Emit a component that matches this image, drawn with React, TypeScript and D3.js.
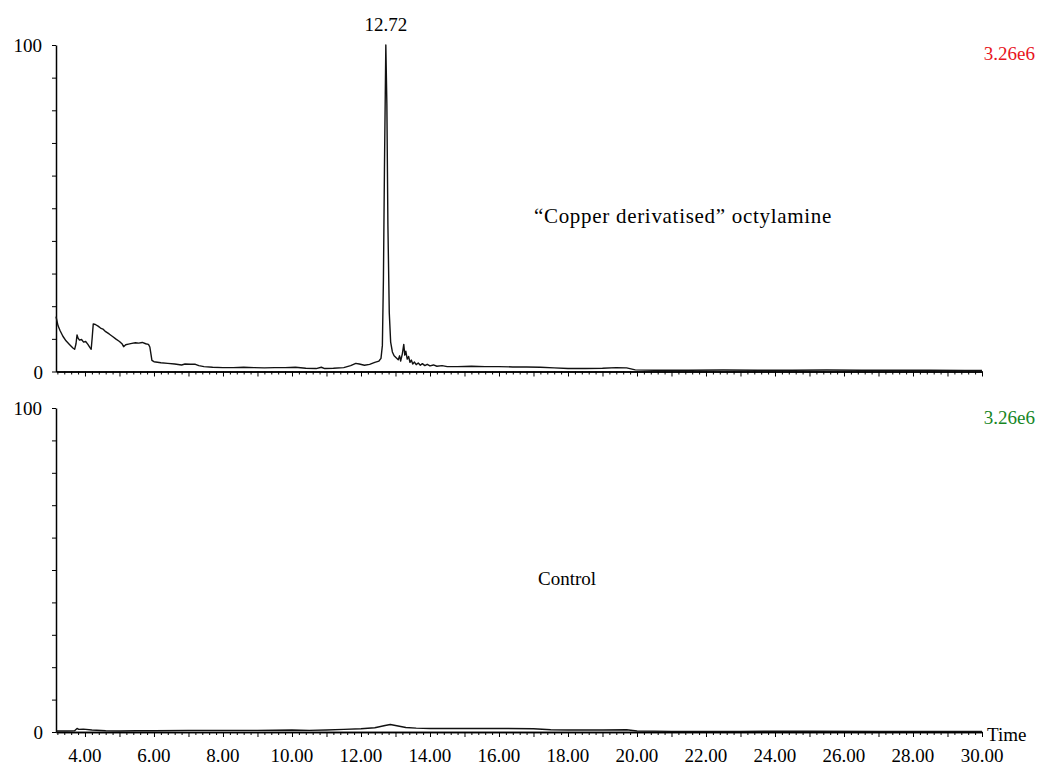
// Chromatogram: copper derivatised octylamine vs control
import React, { useRef, useEffect } from 'react';
import * as d3 from 'd3';

const topTimes = [
  3.16, 3.22, 3.28, 3.36, 3.45, 3.55, 3.65, 3.7, 3.74, 3.77, 3.8, 3.84, 3.9, 3.96, 4.02, 4.08,
  4.14, 4.18, 4.21, 4.24, 4.3, 4.38, 4.45, 4.52, 4.6, 4.7, 4.8, 4.9, 5.0, 5.08, 5.12, 5.18,
  5.26, 5.36, 5.46, 5.56, 5.66, 5.76, 5.84, 5.88, 5.91, 5.94, 6.0, 6.2, 6.4, 6.6, 6.8, 6.9,
  7.05, 7.2, 7.3, 7.45, 7.7, 8.0, 8.3, 8.6, 8.9, 9.2, 9.5, 9.8, 10.1, 10.4, 10.7, 10.85,
  10.95, 11.2, 11.5, 11.7, 11.85, 11.95, 12.1, 12.25, 12.4, 12.52, 12.58, 12.62, 12.65, 12.68,
  12.72, 12.75, 12.78, 12.82, 12.86, 12.91, 12.96, 13.02, 13.08, 13.12, 13.15, 13.2, 13.24, 13.27,
  13.3, 13.34, 13.38, 13.42, 13.46, 13.5, 13.55, 13.6, 13.66, 13.72, 13.78, 13.85, 13.92, 14.0,
  14.1, 14.2, 14.35, 14.5, 14.8, 15.2, 15.6, 16.0, 16.4, 16.8, 17.2, 17.6, 18.0, 18.5, 19.0,
  19.4, 19.7, 19.95, 20.5, 21.5, 22.5, 23.5, 24.5, 25.5, 26.5, 27.5, 28.5, 29.5, 30.0,
];
const topValues = [
  16.8, 14, 12.5, 10.8, 9.4, 8.3, 7.2, 6.8, 8.5, 11.2, 10.2, 9.6, 9.8, 9.0, 9.2, 8.4,
  7.4, 6.8, 10.5, 14.6, 14.4, 13.9, 13.3, 13.0, 12.2, 11.5, 10.7, 9.9, 9.2, 8.4, 7.6, 8.2,
  8.4, 8.6, 8.8, 8.7, 8.9, 8.5, 8.3, 7.5, 5.5, 3.4, 3.0, 2.7, 2.5, 2.3, 2.0, 2.3,
  2.2, 2.2, 1.8, 1.5, 1.3, 1.2, 1.2, 1.3, 1.2, 1.1, 1.2, 1.2, 1.3, 1.0, 0.9, 1.3,
  0.9, 1.0, 1.2, 1.8, 2.5, 2.3, 1.9, 2.2, 2.8, 3.2, 4.0, 8, 28, 62,
  100, 82, 45, 18, 9, 6, 4.8, 4.2, 3.6, 4.8, 3.2, 5.5, 8.3, 5.0,
  6.2, 3.8, 4.6, 2.8, 3.5, 2.3, 2.9, 2.1, 2.6, 1.9, 2.4, 1.8, 2.2, 1.7,
  2.0, 1.6, 1.8, 1.5, 1.5, 1.6, 1.5, 1.5, 1.4, 1.4, 1.3, 1.1, 0.9, 0.9, 1.0,
  1.2, 1.1, 0.5, 0.4, 0.4, 0.45, 0.4, 0.4, 0.45, 0.4, 0.4, 0.4, 0.35, 0.35,
];

const bottomTimes = [
  3.16, 3.5, 3.7, 3.77, 3.82, 3.95, 4.2, 4.6, 5.0, 5.5, 6.0, 7.0, 8.0, 9.0, 10.0, 10.5,
  11.0, 11.5, 12.0, 12.4, 12.7, 12.85, 13.0, 13.3, 13.6, 14.0, 15.0, 16.0, 17.0, 17.5,
  18.0, 19.0, 19.7, 20.0, 21, 23, 25, 27, 29, 30,
];
const bottomValues = [
  0.3, 0.3, 0.4, 1.1, 0.8, 0.9, 0.6, 0.4, 0.3, 0.4, 0.4, 0.5, 0.5, 0.5, 0.6, 0.5,
  0.6, 0.8, 1.0, 1.3, 2.0, 2.3, 2.0, 1.4, 1.2, 1.1, 1.1, 1.1, 1.0, 0.7,
  0.6, 0.6, 0.7, 0.3, 0.2, 0.2, 0.25, 0.2, 0.2, 0.2,
];

const timeLabels = [4, 6, 8, 10, 12, 14, 16, 18, 20, 22, 24, 26, 28, 30];
const yTicks = [0, 10, 20, 30, 40, 50, 60, 70, 80, 90, 100];

const FONT = 'Liberation Serif, DejaVu Serif, serif';

export default function App() {
  const svgRef = useRef<SVGSVGElement>(null);

  useEffect(() => {
    if (!svgRef.current) return;
    const svg = d3.select(svgRef.current);
    svg.selectAll('*').remove();

    const x = d3.scaleLinear().domain([3.16, 30]).range([56, 982]);
    const yTop = d3.scaleLinear().domain([0, 100]).range([371.5, 45]);
    const yBot = d3.scaleLinear().domain([0, 100]).range([732, 408]);

    const minor = d3.range(16, 151).map(i => i / 5).filter(t => Math.abs(t - Math.round(t)) > 0.01);
    const major = d3.range(4, 31);

    const panels = [
      { y: yTop, times: topTimes, values: topValues, scale: '3.26e6', color: '#e8141c', label: '\u201cCopper derivatised\u201d octylamine', lx: 683, ly: 223, sy: 60, fs: 21, ls: 0.7 },
      { y: yBot, times: bottomTimes, values: bottomValues, scale: '3.26e6', color: '#17861f', label: 'Control', lx: 567, ly: 585, sy: 424, fs: 19, ls: 0 },
    ];

    const txt = (g: any, tx: number, ty: number, s: string, anchor = 'start', fill = '#000') =>
      g.append('text')
        .attr('x', tx).attr('y', ty)
        .attr('text-anchor', anchor)
        .attr('fill', fill)
        .attr('font-family', FONT)
        .attr('font-size', 19)
        .text(s);

    panels.forEach((p, idx) => {
      const g = svg.append('g');
      const y0 = p.y(0);

      const styleAxis = (a: any) => {
        a.selectAll('.domain').attr('stroke', '#000').attr('stroke-width', 1.5);
        a.selectAll('.tick line').attr('stroke', '#000').attr('stroke-width', 1);
        a.selectAll('.tick text').remove();
      };
      // x axis: minor and major ticks
      g.append('g')
        .attr('transform', `translate(0,${y0})`)
        .call(d3.axisBottom(x).tickValues(minor).tickSize(3).tickSizeOuter(0))
        .call(styleAxis);
      g.append('g')
        .attr('transform', `translate(0,${y0})`)
        .call(d3.axisBottom(x).tickValues(major).tickSize(5).tickSizeOuter(0))
        .call(styleAxis);

      // y axis
      g.append('g')
        .attr('transform', `translate(${x(3.16)},0)`)
        .call(d3.axisLeft(p.y).tickValues(yTicks).tickSize(4).tickSizeOuter(0))
        .call(styleAxis);

      txt(g, 42, p.y(100) + 7, '100', 'end');
      txt(g, 43, y0 + 7, '0', 'end');

      const line = d3.line<number>()
        .x((_, i) => x(p.times[i]))
        .y(d => p.y(d));
      g.append('path')
        .datum(p.values)
        .attr('d', line)
        .attr('fill', 'none')
        .attr('stroke', '#111')
        .attr('stroke-width', 1.4)
        .attr('stroke-linejoin', 'round');

      txt(g, 1035, p.sy, p.scale, 'end', p.color);
      txt(g, p.lx, p.ly, p.label, 'middle').attr('font-size', p.fs).attr('letter-spacing', p.ls);

      if (idx === 1) {
        timeLabels.forEach(t => txt(g, x(t), 762, t.toFixed(2), 'middle'));
        txt(g, 987, 741, 'Time');
      }
    });

    // peak annotation
    txt(svg, x(12.72), 31, '12.72', 'middle');
  }, []);

  return (
    <svg
      ref={svgRef}
      width={1038}
      height={765}
      style={{ position: 'absolute', left: 0, top: 0, background: '#fff' }}
    />
  );
}
